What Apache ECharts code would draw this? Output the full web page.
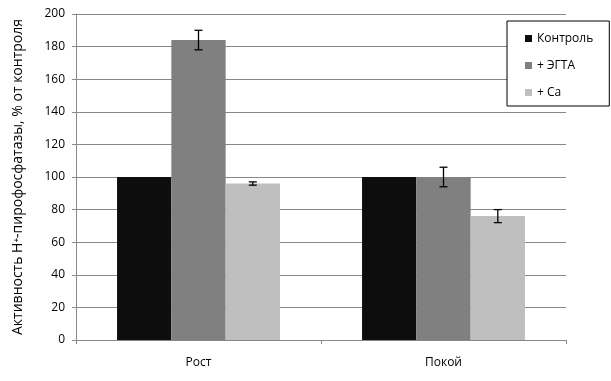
<!DOCTYPE html>
<html>
<head>
<meta charset="utf-8">
<script src="https://cdn.jsdelivr.net/npm/echarts@6/dist/echarts.min.js"></script>
<style>html,body{margin:0;padding:0;background:#fff}#c{width:611px;height:381px}</style>
</head>
<body>
<div id="c"></div>
<script>
const categories = ['Рост', 'Покой'];
const seriesNames = ['Контроль', '+ ЭГТА', '+ Ca'];
const control = [100, 100];
const egta = [184, 100];
const ca = [96, 76];
const egtaErr = [6, 6];
const caErr = [1, 4];
const yTicks = [0, 20, 40, 60, 80, 100, 120, 140, 160, 180, 200];

const colors = ['#0d0d0d', '#808080', '#bfbfbf'];
const values = [control, egta, ca];
const errs = [null, egtaErr, caErr];
const font = '"Open Sans", "DejaVu Sans", sans-serif';
const gapRatio = 0.335;

const errData = [];
for (let s = 1; s < 3; s++) {
  for (let i = 0; i < categories.length; i++) {
    errData.push([i, values[s][i], errs[s][i], s]);
  }
}

const chart = echarts.init(document.getElementById('c'));
chart.setOption({
  animation: false,
  grid: { left: 76, right: 45, top: 14, bottom: 41 },
  legend: {
    orient: 'vertical',
    left: 507, top: 21,
    padding: [10, 16, 6, 18],
    itemGap: 12,
    itemWidth: 7, itemHeight: 7,
    borderColor: '#000', borderWidth: 1,
    backgroundColor: '#fff',
    icon: 'rect',
    data: seriesNames,
    textStyle: { fontFamily: font, fontSize: 12, color: '#000', lineHeight: 15 },
    z: 10
  },
  xAxis: {
    type: 'category',
    data: categories,
    axisLine: { lineStyle: { color: '#888' } },
    axisTick: { show: true, alignWithLabel: false, length: 4, lineStyle: { color: '#888' } },
    axisLabel: { fontFamily: font, fontSize: 12, color: '#000', margin: 17 }
  },
  yAxis: {
    type: 'value',
    min: 0, max: 200, interval: 20,
    name: 'Активность H⁺-пирофосфатазы, % от контроля',
    nameLocation: 'middle',
    nameGap: 51,
    nameTextStyle: { fontFamily: font, fontSize: 14, color: '#000' },
    axisLine: { show: true, lineStyle: { color: '#888' } },
    axisTick: { show: true, length: 4, lineStyle: { color: '#888' } },
    splitLine: { lineStyle: { color: '#888' } },
    axisLabel: { fontFamily: font, fontSize: 12, color: '#000', margin: 11,
      formatter: v => yTicks.includes(v) ? String(v) : '' }
  },
  series: [
    { name: seriesNames[0], type: 'bar', data: control, itemStyle: { color: colors[0] }, barGap: '0%', barCategoryGap: (gapRatio * 100) + '%' },
    { name: seriesNames[1], type: 'bar', data: egta, itemStyle: { color: colors[1] }, barGap: '0%', barCategoryGap: (gapRatio * 100) + '%' },
    { name: seriesNames[2], type: 'bar', data: ca, itemStyle: { color: colors[2] }, barGap: '0%', barCategoryGap: (gapRatio * 100) + '%' },
    {
      type: 'custom',
      data: errData,
      z: 5,
      renderItem: function (params, api) {
        const i = api.value(0), v = api.value(1), e = api.value(2), s = api.value(3);
        const band = api.size([1, 0])[0];
        const bw = band * (1 - gapRatio) / 3;
        const c = api.coord([i, v]);
        const x = c[0] + (s - 1) * bw;
        const top = api.coord([i, v + e])[1];
        const bot = api.coord([i, v - e])[1];
        const hw = 4;
        const st = { stroke: '#000', lineWidth: 1.3 };
        return {
          type: 'group',
          children: [
            { type: 'line', shape: { x1: x, y1: top, x2: x, y2: bot }, style: st },
            { type: 'line', shape: { x1: x - hw, y1: top, x2: x + hw, y2: top }, style: st },
            { type: 'line', shape: { x1: x - hw, y1: bot, x2: x + hw, y2: bot }, style: st }
          ]
        };
      }
    }
  ]
});
</script>
</body>
</html>
